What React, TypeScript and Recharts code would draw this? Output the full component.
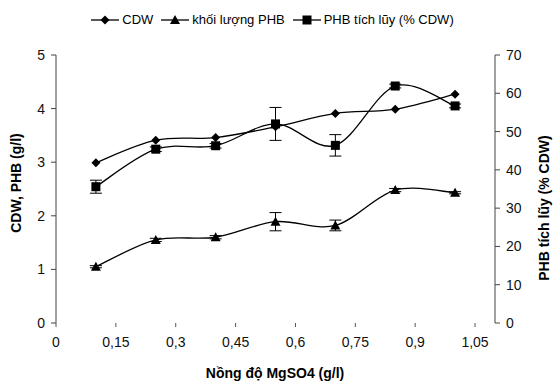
import React from 'react';
import { LineChart, Line, XAxis, YAxis, ErrorBar, Legend } from 'recharts';

const concentrations = [0.1, 0.25, 0.4, 0.55, 0.7, 0.85, 1.0];
const cdw = [2.99, 3.41, 3.46, 3.66, 3.91, 3.99, 4.27];
const phbMass = [1.05, 1.55, 1.6, 1.89, 1.82, 2.48, 2.43];
const phbMassErr = [0.02, 0.03, 0.03, 0.17, 0.1, 0.03, 0.02];
const phbAcc = [35.6, 45.4, 46.3, 52.0, 46.4, 61.9, 56.7];
const phbAccErr = [1.7, 0.6, 0.6, 4.3, 2.8, 0.5, 0.5];

const xTicks = [0, 0.15, 0.3, 0.45, 0.6, 0.75, 0.9, 1.05];
const leftTicks = [0, 1, 2, 3, 4, 5];
const rightTicks = [0, 10, 20, 30, 40, 50, 60, 70];

const seriesNames = ['CDW', 'khối lượng PHB', 'PHB tích lũy (% CDW)'];

const data = concentrations.map((x, i) => ({
    x,
    cdw: cdw[i],
    phbMass: phbMass[i],
    phbMassErr: phbMassErr[i],
    phbAcc: phbAcc[i],
    phbAccErr: phbAccErr[i],
}));

const FONT = '"Liberation Sans", Arial, sans-serif';
const INK = '#000';

// excel-like smoothed line (catmull-rom)
const smoothCurve: any = (context: any) => {
    let pts: number[][] = [];
    return {
        areaStart() {},
        areaEnd() {},
        lineStart() { pts = []; },
        point(x: number, y: number) { pts.push([+x, +y]); },
        lineEnd() {
            if (!pts.length) return;
            context.moveTo(pts[0][0], pts[0][1]);
            for (let i = 0; i < pts.length - 1; i++) {
                const p0 = pts[i - 1] || pts[i];
                const p1 = pts[i];
                const p2 = pts[i + 1];
                const p3 = pts[i + 2] || p2;
                context.bezierCurveTo(
                    p1[0] + (p2[0] - p0[0]) / 6, p1[1] + (p2[1] - p0[1]) / 6,
                    p2[0] - (p3[0] - p1[0]) / 6, p2[1] - (p3[1] - p1[1]) / 6,
                    p2[0], p2[1],
                );
            }
        },
    };
};

const Diamond = (props: any) => {
    const { cx, cy } = props;
    if (cx == null || cy == null) return null;
    const r = 4.5;
    return <path d={`M${cx},${cy - r}L${cx + r},${cy}L${cx},${cy + r}L${cx - r},${cy}Z`} fill={INK} />;
};

const Triangle = (props: any) => {
    const { cx, cy } = props;
    if (cx == null || cy == null) return null;
    const r = 5;
    return <path d={`M${cx},${cy - r}L${cx + r},${cy + r * 0.8}L${cx - r},${cy + r * 0.8}Z`} fill={INK} />;
};

const Square = (props: any) => {
    const { cx, cy } = props;
    if (cx == null || cy == null) return null;
    const r = 4.5;
    return <rect x={cx - r} y={cy - r} width={r * 2} height={r * 2} fill={INK} />;
};

const markers = [Diamond, Triangle, Square];

const LegendContent = () => (
    <div style={{ display: 'flex', justifyContent: 'center', fontFamily: FONT, fontSize: 13, color: INK }}>
        {seriesNames.map((name, i) => {
            const M = markers[i];
            return (
                <div key={name} style={{ display: 'flex', alignItems: 'center', marginRight: 8 }}>
                    <svg width={28} height={12}>
                        <line x1={0} y1={6} x2={28} y2={6} stroke={INK} strokeWidth={1.3} />
                        <M cx={14} cy={6} />
                    </svg>
                    <span style={{ marginLeft: 3 }}>{name}</span>
                </div>
            );
        })}
    </div>
);

const fmt = (v: number) => String(v).replace('.', ',');
const tickStyle = { fill: '#111', fontSize: 14, fontFamily: FONT };
const titleStyle: React.CSSProperties = {
    position: 'absolute', fontFamily: FONT, fontSize: 14, fontWeight: 'bold', color: INK, whiteSpace: 'nowrap',
};

export default function App() {
    return (
        <div style={{ position: 'absolute', left: 0, top: 0, width: 553, height: 383, background: '#fff' }}>
            <LineChart width={553} height={383} data={data} margin={{ top: 40, right: 18, left: 16, bottom: 20 }}>
                <Legend verticalAlign="top" height={15} content={<LegendContent />} wrapperStyle={{ top: 12, left: 0, width: 553 }} />
                <XAxis
                    dataKey="x"
                    type="number"
                    domain={[0, 1.1]}
                    ticks={xTicks}
                    tickFormatter={fmt}
                    axisLine={false}
                    tickLine={{ stroke: '#555' }}
                    tickSize={4}
                    tickMargin={10}
                    height={40}
                    tick={tickStyle}
                    interval={0}
                />
                <YAxis
                    yAxisId="left"
                    domain={[0, 5]}
                    ticks={leftTicks}
                    width={40}
                    axisLine={{ stroke: '#444' }}
                    tickLine={{ stroke: '#444' }}
                    tickSize={5}
                    tick={tickStyle}
                    tickMargin={6}
                />
                <YAxis
                    yAxisId="right"
                    orientation="right"
                    domain={[0, 70]}
                    ticks={rightTicks}
                    width={40}
                    axisLine={{ stroke: '#444' }}
                    tickLine={{ stroke: '#444' }}
                    tickSize={5}
                    tick={tickStyle}
                    tickMargin={6}
                />
                <Line yAxisId="left" dataKey="cdw" name={seriesNames[0]} type={smoothCurve} stroke={INK} strokeWidth={1.3} dot={<Diamond />} activeDot={false} isAnimationActive={false} />
                <Line yAxisId="left" dataKey="phbMass" name={seriesNames[1]} type={smoothCurve} stroke={INK} strokeWidth={1.3} dot={<Triangle />} activeDot={false} isAnimationActive={false}>
                    <ErrorBar dataKey="phbMassErr" direction="y" width={6} stroke={INK} strokeWidth={1} />
                </Line>
                <Line yAxisId="right" dataKey="phbAcc" name={seriesNames[2]} type={smoothCurve} stroke={INK} strokeWidth={1.3} dot={<Square />} activeDot={false} isAnimationActive={false}>
                    <ErrorBar dataKey="phbAccErr" direction="y" width={6} stroke={INK} strokeWidth={1} />
                </Line>
            </LineChart>
            <div style={{ ...titleStyle, left: 16, top: 183, transform: 'translate(-50%, -50%) rotate(-90deg)' }}>CDW, PHB (g/l)</div>
            <div style={{ ...titleStyle, left: 544, top: 208, transform: 'translate(-50%, -50%) rotate(-90deg)' }}>PHB tích lũy (% CDW)</div>
            <div style={{ ...titleStyle, left: 275, top: 373, transform: 'translate(-50%, -50%)' }}>Nồng độ MgSO4 (g/l)</div>
        </div>
    );
}
